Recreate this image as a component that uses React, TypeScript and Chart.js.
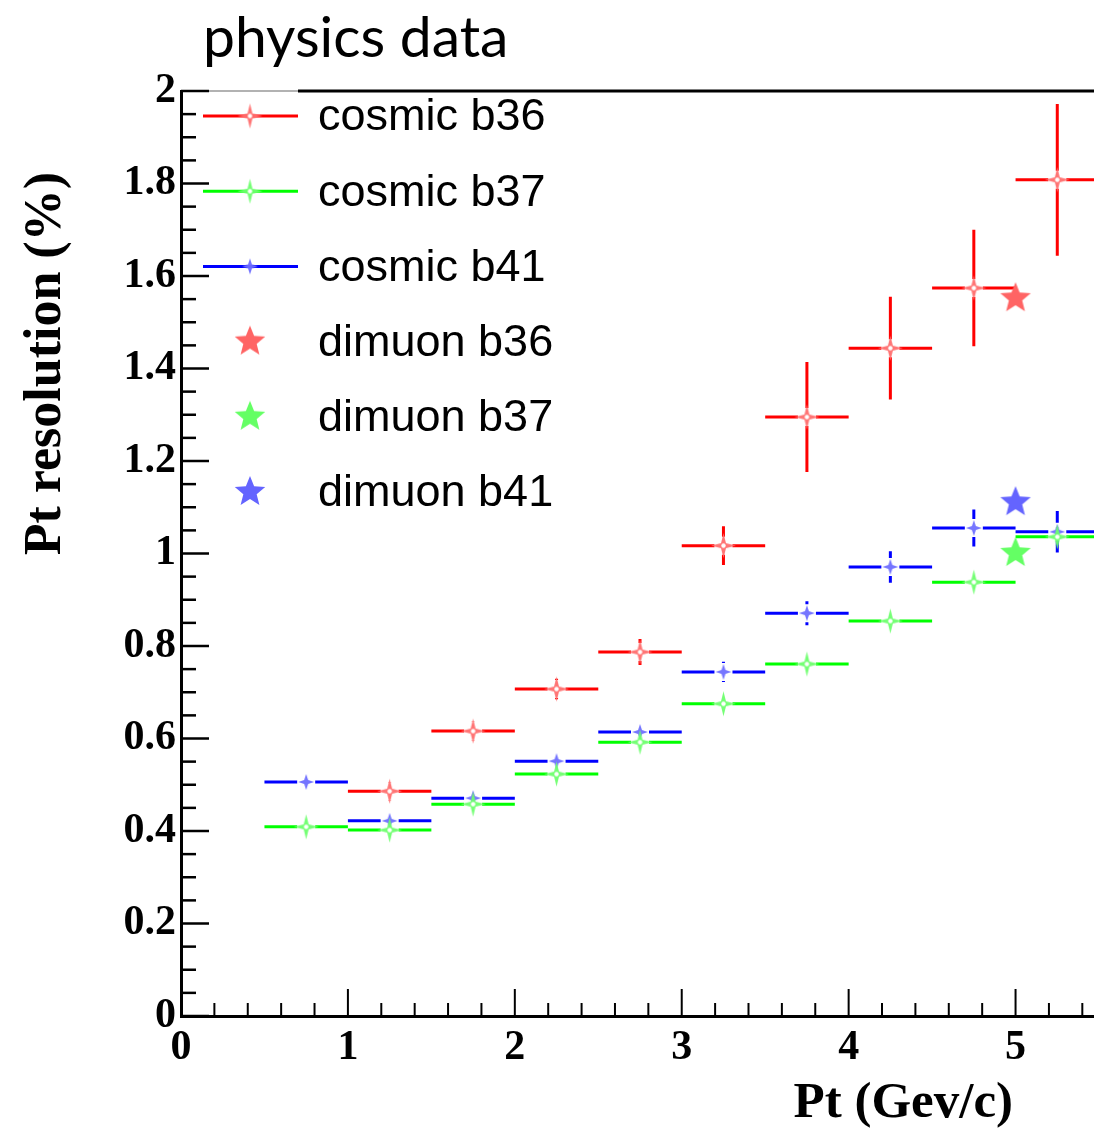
import React, { useEffect, useRef } from 'react';
import { Chart, registerables } from 'chart.js';

Chart.register(...registerables);

// ---- data ----
const binLow = [0.5, 1.0, 1.5, 2.0, 2.5, 3.0, 3.5, 4.0, 4.5, 5.0];
const binHigh = [1.0, 1.5, 2.0, 2.5, 3.0, 3.5, 4.0, 4.5, 5.0, 5.5];
const binCenter = [0.75, 1.25, 1.75, 2.25, 2.75, 3.25, 3.75, 4.25, 4.75, 5.25];

const cosmicB36 = [null, 0.486, 0.616, 0.707, 0.787, 1.017, 1.295, 1.444, 1.574, 1.808];
const cosmicB36Err = [null, 0.02, 0.02, 0.022, 0.028, 0.042, 0.119, 0.111, 0.126, 0.164];
const cosmicB37 = [0.409, 0.402, 0.458, 0.523, 0.592, 0.675, 0.761, 0.854, 0.938, 1.036];
const cosmicB37Err = [0.012, 0.012, 0.012, 0.012, 0.012, 0.014, 0.015, 0.016, 0.018, 0.02];
const cosmicB41 = [0.506, 0.422, 0.471, 0.551, 0.614, 0.744, 0.871, 0.971, 1.055, 1.047];
const cosmicB41Err = [0.012, 0.016, 0.015, 0.013, 0.014, 0.022, 0.026, 0.034, 0.04, 0.045];

const dimuonX = [5.0];
const dimuonB36 = [1.552];
const dimuonB37 = [1.001];
const dimuonB41 = [1.111];

const seriesLabels = ['cosmic b36', 'cosmic b37', 'cosmic b41', 'dimuon b36', 'dimuon b37', 'dimuon b41'];
const titleText = 'physics data';
const xTitle = 'Pt (Gev/c)';
const yTitle = 'Pt resolution (%)';

// ---- marker images ----
function starCanvas(color: string, points: number, rOut: number, rIn: number, hole: number) {
  const size = Math.ceil(rOut * 2 + 4);
  const c = document.createElement('canvas');
  c.width = size;
  c.height = size;
  const g = c.getContext('2d') as CanvasRenderingContext2D;
  const cx = size / 2;
  const cy = size / 2;
  g.beginPath();
  for (let k = 0; k < points * 2; k++) {
    const a = -Math.PI / 2 + (k * Math.PI) / points;
    const r = k % 2 === 0 ? rOut : rIn;
    const px = cx + r * Math.cos(a);
    const py = cy + r * Math.sin(a);
    if (k === 0) g.moveTo(px, py);
    else g.lineTo(px, py);
  }
  g.closePath();
  g.fillStyle = color;
  g.fill();
  if (hole > 0) {
    g.beginPath();
    g.arc(cx, cy, hole, 0, Math.PI * 2);
    g.fillStyle = '#ffffff';
    g.fill();
  }
  return c;
}

function fmt(v: number) {
  return String(parseFloat(Number(v).toFixed(2)));
}

function cosmicData(vals: (number | null)[], errs: (number | null)[]) {
  const out: any[] = [];
  vals.forEach((v, i) => {
    if (v === null) return;
    out.push({ x: binCenter[i], y: v, xMin: binLow[i], xMax: binHigh[i], yErr: errs[i] });
  });
  return out;
}

const rootPlugin = {
  id: 'rootDecor',
  beforeDatasetsDraw(chart: any) {
    const ctx = chart.ctx as CanvasRenderingContext2D;
    const xs = chart.scales.x;
    const ys = chart.scales.y;
    const area = chart.chartArea;
    ctx.save();
    ctx.beginPath();
    ctx.rect(area.left, area.top, area.right - area.left + 10, area.bottom - area.top);
    ctx.clip();
    chart.data.datasets.forEach((ds: any) => {
      if (!ds.errorBars) return;
      const gap = ds.barGap;
      ctx.strokeStyle = ds.lineColor;
      ctx.lineWidth = 3;
      ctx.lineCap = 'butt';
      ds.data.forEach((d: any) => {
        const px = xs.getPixelForValue(d.x);
        const py = ys.getPixelForValue(d.y);
        const xl = xs.getPixelForValue(d.xMin);
        const xr = xs.getPixelForValue(d.xMax);
        const yt = ys.getPixelForValue(d.y + d.yErr);
        const yb = ys.getPixelForValue(d.y - d.yErr);
        ctx.beginPath();
        ctx.moveTo(xl, py);
        ctx.lineTo(px - gap, py);
        ctx.moveTo(px + gap, py);
        ctx.lineTo(xr, py);
        if (py - yt > gap) {
          ctx.moveTo(px, yt);
          ctx.lineTo(px, py - gap);
          ctx.moveTo(px, py + gap);
          ctx.lineTo(px, yb);
        }
        ctx.stroke();
      });
    });
    ctx.restore();
  },
  afterDraw(chart: any) {
    const ctx = chart.ctx as CanvasRenderingContext2D;
    const xs = chart.scales.x;
    const ys = chart.scales.y;
    const area = chart.chartArea;
    ctx.save();
    // frame top line
    ctx.strokeStyle = '#999';
    ctx.lineWidth = 1.5;
    ctx.beginPath();
    ctx.moveTo(area.left, area.top);
    ctx.lineTo(298, area.top);
    ctx.stroke();
    ctx.strokeStyle = '#000';
    ctx.lineWidth = 3;
    ctx.beginPath();
    ctx.moveTo(298, area.top);
    ctx.lineTo(area.right + 5, area.top);
    ctx.stroke();

    // y ticks (inward)
    ctx.strokeStyle = '#000';
    ctx.lineWidth = 2.5;
    for (let i = 0; i <= 40; i++) {
      const v = i * 0.05;
      if (v > ys.max + 1e-9) break;
      const py = ys.getPixelForValue(v);
      const len = i % 4 === 0 ? 28 : 15;
      ctx.beginPath();
      ctx.moveTo(area.left, py);
      ctx.lineTo(area.left + len, py);
      ctx.stroke();
    }
    // x ticks (inward)
    ctx.lineWidth = 2;
    for (let i = 0; i <= 60; i++) {
      const v = i * 0.2;
      if (v > xs.max + 1e-9) break;
      const px = xs.getPixelForValue(v);
      const len = i % 5 === 0 ? 27 : 13;
      ctx.beginPath();
      ctx.moveTo(px, area.bottom);
      ctx.lineTo(px, area.bottom - len);
      ctx.stroke();
    }

    // title
    ctx.fillStyle = '#000';
    ctx.font = '57px Lato';
    ctx.textAlign = 'left';
    ctx.textBaseline = 'alphabetic';
    ctx.fillText(titleText, 203, 57);

    // axis titles
    ctx.font = 'bold 51px "Liberation Serif"';
    ctx.textAlign = 'right';
    ctx.fillText(xTitle, 1013, 1117);
    ctx.save();
    ctx.font = 'bold 52px "Liberation Serif"';
    ctx.translate(60, 172);
    ctx.rotate(-Math.PI / 2);
    ctx.textAlign = 'right';
    ctx.fillText(yTitle, 0, 0);
    ctx.restore();

    // legend
    const rowY0 = 116;
    const rowDy = 75.2;
    ctx.font = '45px "Liberation Sans"';
    ctx.textAlign = 'left';
    ctx.textBaseline = 'middle';
    chart.data.datasets.forEach((ds: any, i: number) => {
      const y = rowY0 + i * rowDy;
      if (ds.errorBars) {
        ctx.strokeStyle = ds.lineColor;
        ctx.lineWidth = 3;
        ctx.beginPath();
        ctx.moveTo(203, y);
        ctx.lineTo(298, y);
        ctx.stroke();
      }
      const img = ds.pointStyle as HTMLCanvasElement;
      ctx.drawImage(img, 250 - img.width / 2, y - img.height / 2);
      ctx.fillStyle = '#000';
      ctx.fillText(ds.label, 318, y + 2);
    });
    ctx.restore();
  },
};

export default function App() {
  const ref = useRef<HTMLCanvasElement | null>(null);
  useEffect(() => {
    document.body.style.margin = '0';
    const canvas = ref.current;
    if (!canvas) return;
    const redM = starCanvas('rgba(255,110,110,0.95)', 4, 12.5, 3.5, 2.2);
    const greenM = starCanvas('rgba(110,255,110,0.95)', 4, 12.5, 3.5, 2.2);
    const blueM = starCanvas('rgba(110,110,255,0.95)', 4, 8, 2.8, 0);
    const redS = starCanvas('#ff6464', 5, 16, 7, 0);
    const greenS = starCanvas('#64ff64', 5, 16, 7, 0);
    const blueS = starCanvas('#6464ff', 5, 16, 7, 0);

    const base = { showLine: false, pointRadius: 8, pointHoverRadius: 8 };
    const chart = new Chart(canvas, {
      type: 'scatter',
      data: {
        datasets: [
          { ...base, label: seriesLabels[0], data: cosmicData(cosmicB36, cosmicB36Err), pointStyle: redM, errorBars: true, lineColor: '#ff0000', barGap: 9 } as any,
          { ...base, label: seriesLabels[1], data: cosmicData(cosmicB37, cosmicB37Err), pointStyle: greenM, errorBars: true, lineColor: '#00ff00', barGap: 9 } as any,
          { ...base, label: seriesLabels[2], data: cosmicData(cosmicB41, cosmicB41Err), pointStyle: blueM, errorBars: true, lineColor: '#0000ff', barGap: 9 } as any,
          { ...base, label: seriesLabels[3], data: dimuonX.map((x, i) => ({ x, y: dimuonB36[i] })), pointStyle: redS } as any,
          { ...base, label: seriesLabels[4], data: dimuonX.map((x, i) => ({ x, y: dimuonB37[i] })), pointStyle: greenS } as any,
          { ...base, label: seriesLabels[5], data: dimuonX.map((x, i) => ({ x, y: dimuonB41[i] })), pointStyle: blueS } as any,
        ],
      },
      options: {
        animation: false,
        responsive: false,
        maintainAspectRatio: false,
        layout: { autoPadding: false, padding: { top: 91, left: 0, right: 0, bottom: 0 } },
        plugins: {
          legend: { display: false },
          title: { display: false },
          tooltip: { enabled: false },
        },
        scales: {
          x: {
            type: 'linear',
            min: 0,
            max: 5.47,
            afterFit: (s: any) => { s.height = 112; },
            grid: { display: false, drawTicks: false },
            border: { display: true, color: '#000', width: 3 },
            ticks: {
              stepSize: 1,
              includeBounds: false,
              autoSkip: false,
              maxRotation: 0,
              padding: 7,
              color: '#000',
              font: { family: 'Liberation Serif', weight: 'bold', size: 42 },
              callback: (v: any) => fmt(v),
            },
          },
          y: {
            type: 'linear',
            min: 0,
            max: 2,
            afterFit: (s: any) => { s.width = 181; },
            grid: { display: false, drawTicks: false },
            border: { display: true, color: '#000', width: 3 },
            ticks: {
              stepSize: 0.2,
              includeBounds: false,
              autoSkip: false,
              padding: 5,
              color: '#000',
              font: { family: 'Liberation Serif', weight: 'bold', size: 42 },
              callback: (v: any) => fmt(v),
            },
          },
        },
      } as any,
      plugins: [rootPlugin],
    });
    return () => chart.destroy();
  }, []);
  return (
    <div style={{ position: 'absolute', left: 0, top: 0, width: 1094, height: 1128, background: '#fff' }}>
      <canvas ref={ref} width={1094} height={1128} style={{ display: 'block', width: 1094, height: 1128 }} />
    </div>
  );
}
